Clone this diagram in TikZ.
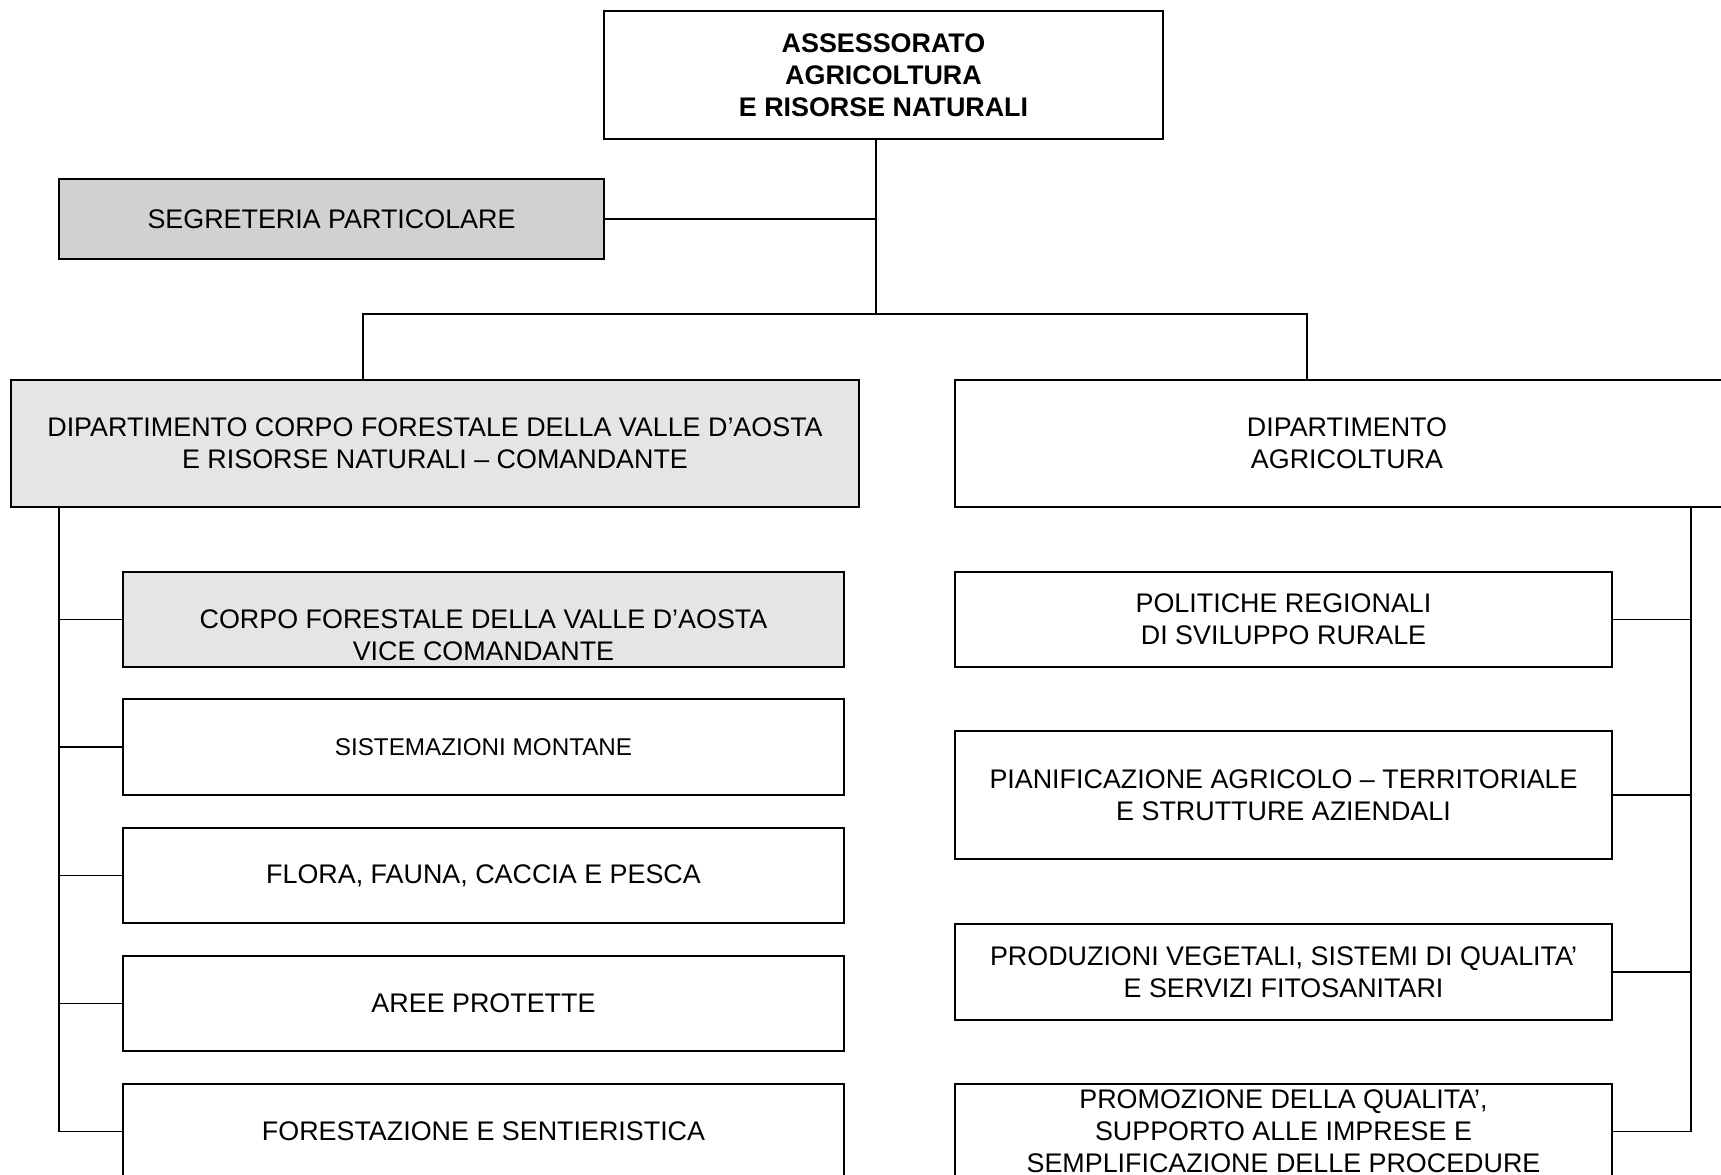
\documentclass[tikz,border=0pt]{standalone}
\usepackage{fontspec}
\setmainfont{Liberation Sans}
\definecolor{segrfill}{gray}{0.82}

\begin{document}
\begin{tikzpicture}[x=0.02cm, y=-0.02cm, every node/.style={font=\fontsize{15.3}{18.2}\selectfont}, unit/.style 2 args={draw, line width=1.3pt, align=center, inner sep=0pt, minimum width=#1*0.02cm, minimum height=#2*0.02cm}, link/.style={line width=0.8pt}]
	\clip (0,0) rectangle (1721,1175);
	\node[unit={559}{128}, font=\fontsize{15.3}{18.2}\selectfont\bfseries] (assess) at (883.5,75) {ASSESSORATO\\AGRICOLTURA\\E RISORSE NATURALI};
	\node[unit={545}{80}, fill=segrfill] (segr) at (331.5,219) {SEGRETERIA PARTICOLARE};
	\node[unit={848}{127}, fill=black!10] (dipcf) at (435,443.5) {DIPARTIMENTO CORPO FORESTALE DELLA VALLE D’AOSTA\\E RISORSE NATURALI – COMANDANTE};
	\node[unit={784}{127}] (dipag) at (1347,443.5) {DIPARTIMENTO\\AGRICOLTURA};
	% strutture del corpo forestale
	\node[unit={721}{95}, fill=black!10] (cfva) at (483.5,619.5) {};
	\node[align=center] (cfvatxt) at (483.5,635) {CORPO FORESTALE DELLA VALLE D’AOSTA\\VICE COMANDANTE};
	\node[unit={721}{96}, font=\fontsize{13.8}{16}\selectfont] (sism) at (483.5,747) {SISTEMAZIONI MONTANE};
	\node[unit={721}{95}] (flora) at (483.5,875.5) {FLORA, FAUNA, CACCIA E PESCA};
	\node[unit={721}{95}] (aree) at (483.5,1003.5) {AREE PROTETTE};
	\node[unit={721}{95}] (forest) at (483.5,1131.5) {FORESTAZIONE E SENTIERISTICA};
	% strutture dell'agricoltura
	\node[unit={657}{95}] (psr) at (1283.5,619.5) {POLITICHE REGIONALI\\DI SVILUPPO RURALE};
	\node[unit={657}{128}] (pian) at (1283.5,795) {PIANIFICAZIONE AGRICOLO – TERRITORIALE\\E STRUTTURE AZIENDALI};
	\node[unit={657}{96}] (prod) at (1283.5,972) {PRODUZIONI VEGETALI, SISTEMI DI QUALITA’\\E SERVIZI FITOSANITARI};
	\node[unit={657}{95}] (prom) at (1283.5,1131.5) {PROMOZIONE DELLA QUALITA’,\\SUPPORTO ALLE IMPRESE E\\SEMPLIFICAZIONE DELLE PROCEDURE};
	% collegamenti
	\coordinate (hub) at (876,314);
	\coordinate (lbr) at (363,314);
	\coordinate (rbr) at (1307,314);
	\coordinate (lspine) at (59,0);
	\coordinate (rspine) at (1691,0);
	\draw[link] (assess.south -| hub) -- (hub);
	\draw[link] (segr.east) -- (segr.east -| hub);
	\draw[link] (dipcf.north -| lbr) -- (lbr) -- (rbr) -- (dipag.north -| rbr);
	\draw[link] (dipcf.south -| lspine) |- (forest.west);
	\foreach \n in {cfva,sism,flora,aree}
		\draw[link] (\n.west) -- (\n.west -| lspine);
	\draw[link] (dipag.south -| rspine) |- (prom.east);
	\foreach \n in {psr,pian,prod}
		\draw[link] (\n.east) -- (\n.east -| rspine);
\end{tikzpicture}
\end{document}
